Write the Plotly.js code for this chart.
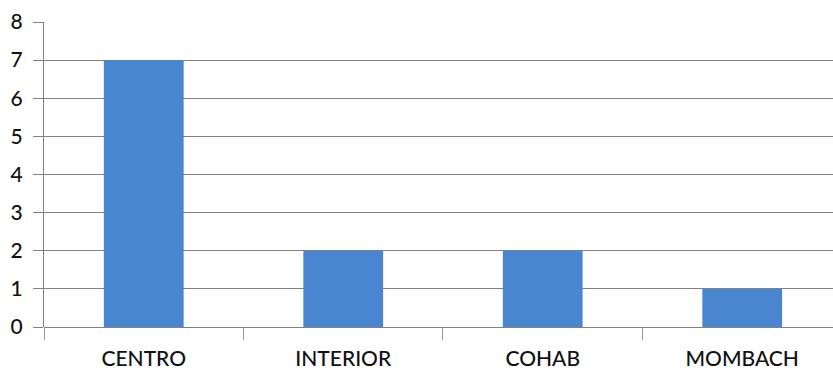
<!DOCTYPE html>
<html>
<head>
<meta charset="utf-8">
<script src="https://cdn.plot.ly/plotly-3.0.1.min.js"></script>
<style>html,body{margin:0;padding:0;background:#fff;}#chart{width:833px;height:370px;}</style>
</head>
<body>
<div id="chart"></div>
<script>
// Number of records per district
const categories = ["CENTRO", "INTERIOR", "COHAB", "MOMBACH"];
const counts = [7, 2, 2, 1];
const yTicks = [0, 1, 2, 3, 4, 5, 6, 7, 8];

const trace = {
  type: "bar",
  x: categories,
  y: counts,
  width: 0.4,
  marker: { color: "#4a86cf", line: { width: 0 } },
  hoverinfo: "x+y"
};

const layout = {
  width: 833,
  height: 370,
  margin: { l: 44, r: 0, t: 22, b: 43 },
  paper_bgcolor: "#ffffff",
  plot_bgcolor: "#ffffff",
  showlegend: false,
  font: { family: "Lato, Open Sans, sans-serif", color: "#111" },
  xaxis: {
    type: "category",
    range: [-0.5, 3.455],
    showgrid: false,
    showline: false,
    ticks: "outside",
    tickson: "boundaries",
    ticklen: 12,
    tickcolor: "#999",
    tickwidth: 1,
    ticklabelstandoff: 17,
    tickfont: { size: 21, color: "#111", weight: 500 },
    zeroline: false,
    fixedrange: true
  },
  yaxis: {
    range: [0, 8],
    tickvals: yTicks,
    ticktext: yTicks.map(String),
    showgrid: true,
    gridcolor: "#808080",
    gridwidth: 1,
    showline: true,
    linecolor: "#808080",
    linewidth: 1,
    ticks: "outside",
    ticklen: 10,
    tickcolor: "#808080",
    ticklabelstandoff: 6,
    tickfont: { size: 21, color: "#111", weight: 500 },
    zeroline: true,
    zerolinecolor: "#808080",
    zerolinewidth: 1,
    fixedrange: true
  },
  bargap: 0.6
};

Plotly.newPlot("chart", [trace], layout, { displayModeBar: false, staticPlot: true });
</script>
</body>
</html>
